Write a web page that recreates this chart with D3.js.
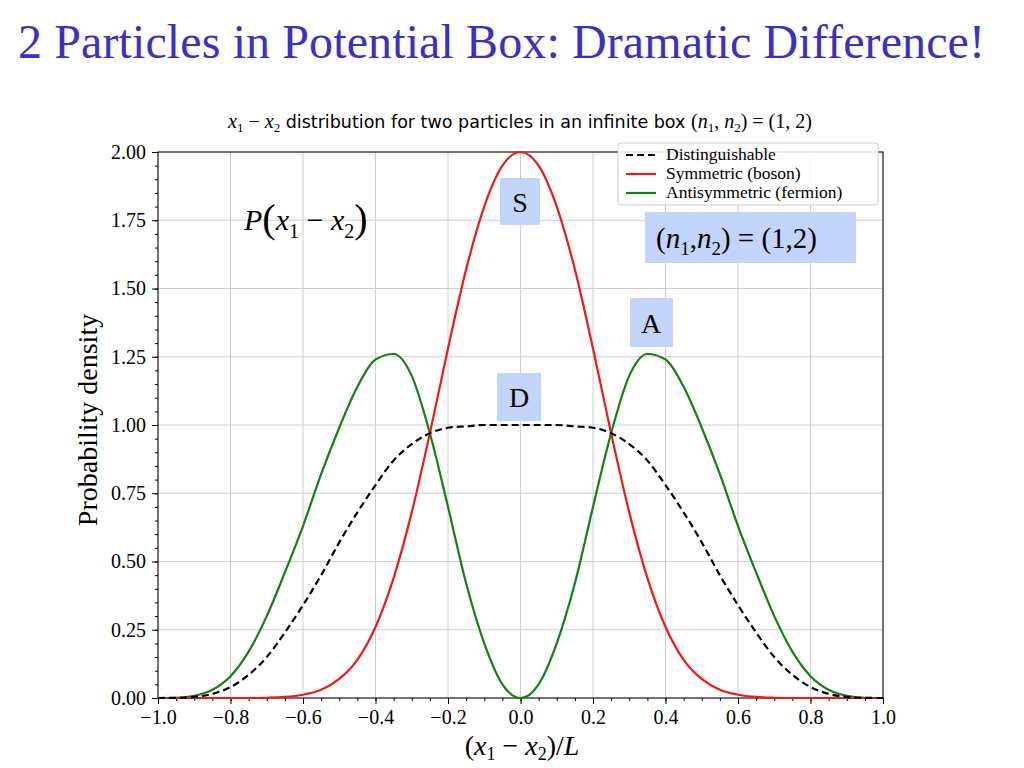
<!DOCTYPE html>
<html><head><meta charset="utf-8">
<script src="https://cdn.jsdelivr.net/npm/d3@7"></script>
<style>body{margin:0;background:#fff}svg{font-family:"Liberation Serif","DejaVu Serif",serif}</style>
</head><body><svg id="c" width="1024" height="768"></svg>
<script>
const xs = [0,0.05,0.1,0.15,0.2,0.25,0.3,0.35,0.4,0.45,0.5,0.55,0.6,0.65,0.7,0.75,0.8,0.85,0.9,0.95,1.0];
const distinguishable = [1.0,1.0,1.0,0.995,0.99,0.97,0.93,0.87,0.78,0.68,0.57,0.45,0.34,0.24,0.15,0.085,0.04,0.015,0.004,0.0005,0];
const symmetric = [2.0,1.95,1.80,1.57,1.28,0.97,0.68,0.44,0.26,0.14,0.07,0.03,0.012,0.004,0.001,0,0,0,0,0,0];
const antisymmetric = [0,0.05,0.2,0.42,0.70,0.97,1.18,1.26,1.24,1.14,0.99,0.82,0.63,0.46,0.30,0.17,0.08,0.03,0.008,0.001,0];
const xTicks = [-1.0,-0.8,-0.6,-0.4,-0.2,0.0,0.2,0.4,0.6,0.8,1.0];
const yTicks = [0,0.25,0.5,0.75,1.0,1.25,1.5,1.75,2.0];

const svg = d3.select("#c");
const x = d3.scaleLinear().domain([-1,1]).range([158,883]);
const y = d3.scaleLinear().domain([0,2.0]).range([698,152]);
const fmtX = d => (d<0?"\u2212":"")+Math.abs(d).toFixed(1);

svg.append("text").attr("x",18).attr("y",58).attr("font-size",48).attr("fill","#3a2fc8").attr("textLength",967).text("2 Particles in Potential Box: Dramatic Difference!");
const st = svg.append("text").attr("x",520).attr("y",128).attr("font-size",20).attr("text-anchor","middle");
st.append("tspan").attr("font-style","italic").text("x");
st.append("tspan").attr("font-size",13).attr("dy",4).text("1");
st.append("tspan").attr("dy",-4).text(" \u2212 ");
st.append("tspan").attr("font-style","italic").text("x");
st.append("tspan").attr("font-size",13).attr("dy",4).text("2");
st.append("tspan").attr("dy",-4).attr("font-family","DejaVu Sans").attr("font-size",17.5).text(" distribution for two particles in an infinite box ");
st.append("tspan").text("(");
st.append("tspan").attr("font-style","italic").text("n");
st.append("tspan").attr("font-size",13).attr("dy",4).text("1");
st.append("tspan").attr("dy",-4).text(", ");
st.append("tspan").attr("font-style","italic").text("n");
st.append("tspan").attr("font-size",13).attr("dy",4).text("2");
st.append("tspan").attr("dy",-4).text(") = (1, 2)");

const g = svg.append("g");
g.selectAll(".gx").data(xTicks).join("line").attr("x1",x).attr("x2",x).attr("y1",152).attr("y2",698).attr("stroke","#c8c8c8").attr("stroke-width",0.9);
g.selectAll(".gy").data(yTicks).join("line").attr("y1",y).attr("y2",y).attr("x1",158).attr("x2",883).attr("stroke","#c8c8c8").attr("stroke-width",0.9);

const xa = svg.append("g").attr("transform","translate(0,698)").call(d3.axisBottom(x).tickValues(xTicks).tickFormat(fmtX).tickSize(6));
const xm = svg.append("g").attr("transform","translate(0,698)").call(d3.axisBottom(x).tickValues(d3.range(-1,1.001,0.05)).tickFormat("").tickSize(3));
const ya = svg.append("g").attr("transform","translate(158,0)").call(d3.axisLeft(y).tickValues(yTicks).tickFormat(d3.format(".2f")).tickSize(6));
const ym = svg.append("g").attr("transform","translate(158,0)").call(d3.axisLeft(y).tickValues(d3.range(0,2.001,0.05)).tickFormat("").tickSize(3));
[xa,ya].forEach(a=>a.selectAll("text").attr("font-size",20).attr("font-family","Liberation Serif").attr("fill","#000"));
ya.selectAll("text").attr("dx",-3);
xa.selectAll("text").attr("dy","0.85em");
[xa,xm,ya,ym].forEach(a=>a.select(".domain").remove());
svg.append("rect").attr("x",158).attr("y",152).attr("width",725).attr("height",546).attr("fill","none").attr("stroke","#000").attr("stroke-width",1);

const full = (arr) => {
  const pts = [];
  for (let i=xs.length-1;i>0;i--) pts.push([-xs[i],arr[i]]);
  for (let i=0;i<xs.length;i++) pts.push([xs[i],arr[i]]);
  return pts;
};
const line = d3.line().x(d=>x(d[0])).y(d=>y(d[1])).curve(d3.curveMonotoneX);
svg.append("path").attr("d",line(full(antisymmetric))).attr("fill","none").attr("stroke","#138013").attr("stroke-width",2.2);
svg.append("path").attr("d",line(full(symmetric))).attr("fill","none").attr("stroke","#f01818").attr("stroke-width",2.2);
svg.append("path").attr("d",line(full(distinguishable))).attr("fill","none").attr("stroke","#000").attr("stroke-width",2.2).attr("stroke-dasharray","7,4");

const lg = svg.append("g");
lg.append("rect").attr("x",618).attr("y",143).attr("width",260).attr("height",62).attr("fill","#fff").attr("fill-opacity",0.85).attr("stroke","#ccc").attr("rx",3);
const items = [["Distinguishable","#000","7,4"],["Symmetric (boson)","#f01818",null],["Antisymmetric (fermion)","#138013",null]];
items.forEach((it,i)=>{
  const yy = 155+i*19;
  lg.append("line").attr("x1",626).attr("x2",656).attr("y1",yy).attr("y2",yy).attr("stroke",it[1]).attr("stroke-width",2.2).attr("stroke-dasharray",it[2]);
  lg.append("text").attr("x",666).attr("y",yy+5).attr("font-size",17.5).text(it[0]);
});

const box = (x0,y0,w,h)=>svg.append("rect").attr("x",x0).attr("y",y0).attr("width",w).attr("height",h).attr("fill","#c3d4fa");
box(500,178,40,47); svg.append("text").attr("x",520).attr("y",212).attr("font-size",28).attr("text-anchor","middle").text("S");
box(497,373,44,48); svg.append("text").attr("x",519).attr("y",407).attr("font-size",28).attr("text-anchor","middle").text("D");
box(630,298,43,49); svg.append("text").attr("x",651).attr("y",333).attr("font-size",28).attr("text-anchor","middle").text("A");
box(645,212,211,51);
const nt = svg.append("text").attr("x",656).attr("y",248).attr("font-size",29);
nt.append("tspan").text("(");
nt.append("tspan").attr("font-style","italic").text("n");
nt.append("tspan").attr("font-size",19).attr("dy",7).text("1");
nt.append("tspan").attr("dy",-7).text(",");
nt.append("tspan").attr("font-style","italic").text("n");
nt.append("tspan").attr("font-size",19).attr("dy",7).text("2");
nt.append("tspan").attr("dy",-7).text(") = (1,2)");
const pt = svg.append("text").attr("x",244).attr("y",230).attr("font-size",30);
pt.append("tspan").attr("font-style","italic").text("P");
pt.append("tspan").attr("font-size",40).attr("dy",2).text("(");
pt.append("tspan").attr("font-style","italic").attr("dy",-2).text("x");
pt.append("tspan").attr("font-size",20).attr("dy",8).text("1");
pt.append("tspan").attr("dy",-8).text(" \u2212 ");
pt.append("tspan").attr("font-style","italic").text("x");
pt.append("tspan").attr("font-size",20).attr("dy",8).text("2");
pt.append("tspan").attr("font-size",40).attr("dy",-6).text(")");

svg.append("text").attr("transform","translate(97,420) rotate(-90)").attr("font-size",28).attr("text-anchor","middle").text("Probability density");
const xl = svg.append("text").attr("x",522).attr("y",755).attr("font-size",28).attr("text-anchor","middle");
xl.append("tspan").text("(");
xl.append("tspan").attr("font-style","italic").text("x");
xl.append("tspan").attr("font-size",18).attr("dy",5).text("1");
xl.append("tspan").attr("dy",-5).text(" \u2212 ");
xl.append("tspan").attr("font-style","italic").text("x");
xl.append("tspan").attr("font-size",18).attr("dy",5).text("2");
xl.append("tspan").attr("dy",-5).text(")/");
xl.append("tspan").attr("font-style","italic").text("L");
</script></body></html>
